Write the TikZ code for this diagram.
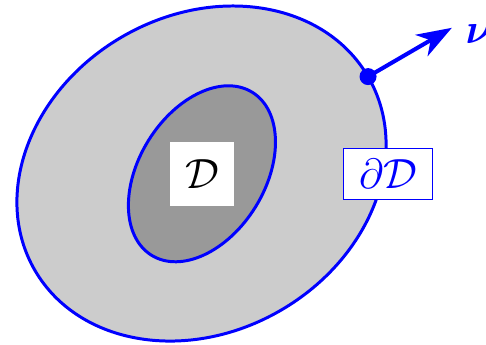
\documentclass[tikz,border=0pt]{standalone}
\usepackage{amsmath}
\usepackage{amssymb}
\usepackage{bm}
\usetikzlibrary{arrows.meta,positioning,calc}

\begin{document}
\begin{tikzpicture}[
    x=0.01cm, y=0.01cm,
    boundary/.style={draw=blue, line width=0.85pt},
    setlabel/.style={fill=white, inner sep=0pt, font=\fontsize{12.5}{15}\selectfont},
    arrow/.style={-{Stealth[length=10pt, width=7pt, inset=3pt]}, blue, line width=1.15pt}
]
\useasboundingbox (0,0) rectangle (486,344);

% Domains
\coordinate (c) at (201.5,170.5);
\filldraw[boundary, fill=black!20, rotate around={30.2:(c)}] (c) ellipse [x radius=192.7, y radius=158.1];
\filldraw[boundary, fill=black!40, rotate around={58.3:(c)}] ($(c)+(0,-0.5)$) ellipse [x radius=95.8, y radius=63];

% Labels
\node[setlabel, minimum size=0.64cm] (dom) at (202,170) {$\mathcal{D}$};
\node[setlabel, draw=blue, line width=0.3pt, text=blue, minimum width=0.886cm, minimum height=0.503cm] (bdry) at (388,170) {$\partial\mathcal{D}$};

% Outer normal
\coordinate (P) at ($(c)+(30.2:192.7)$);
\fill[blue] (P) circle [radius=8.5];
\coordinate (tip) at ($(P)+(30.2:97)$);
\draw[arrow] (P) -- (tip);
\node[right=0.13cm of tip, yshift=-0.06cm, text=blue, inner sep=0pt, font=\fontsize{13}{15}\selectfont] (nu) {$\bm{\nu}$};
\end{tikzpicture}
\end{document}
